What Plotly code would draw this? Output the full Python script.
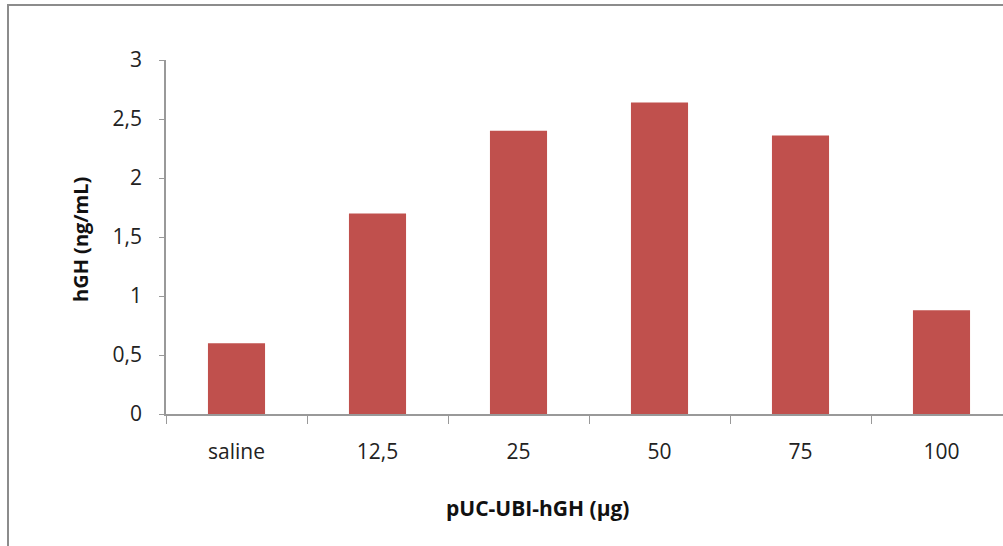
import plotly.graph_objects as go

categories = ["saline", "12,5", "25", "50", "75", "100"]
values = [0.60, 1.70, 2.40, 2.64, 2.36, 0.88]
y_ticks = [0, 0.5, 1, 1.5, 2, 2.5, 3]
y_tick_labels = ["0", "0,5", "1", "1,5", "2", "2,5", "3"]

W, H = 1003, 546
L, R, T, B = 166, 0, 60, 132
pw = W - L - R
ph = H - T - B
cat_px = 141.0

fig = go.Figure(go.Bar(x=categories, y=values, marker=dict(color="#C0504D", line=dict(width=0)), width=0.405))

FAM = "Open Sans, sans-serif"
font = dict(family=FAM, size=21, color="#222")

fig.update_layout(
    width=W, height=H,
    margin=dict(l=L, r=R, t=T, b=B),
    paper_bgcolor="white", plot_bgcolor="white",
    showlegend=False,
    font=font,
    xaxis=dict(
        type="category",
        range=[-0.5, -0.5 + pw / cat_px],
        showline=True, linecolor="#999", linewidth=1.5,
        ticks="outside", tickson="boundaries", ticklen=8, tickcolor="#999",
        showgrid=False, zeroline=False,
        ticklabelstandoff=18,
        tickfont=font,
    ),
    yaxis=dict(
        range=[0, 3], tickvals=y_ticks, ticktext=y_tick_labels,
        showline=True, linecolor="#999", linewidth=1.5,
        ticks="outside", ticklen=5, tickcolor="#999",
        showgrid=False, zeroline=False,
        ticklabelstandoff=13,
        tickfont=font,
    ),
    shapes=[dict(
        type="rect", xref="paper", yref="paper",
        x0=(8 - L) / pw, x1=1.5, y0=-1.0, y1=(H - B - 5) / ph,
        line=dict(color="#8c8c8c", width=2), fillcolor="rgba(0,0,0,0)", layer="below",
    )],
    annotations=[
        dict(text="<b>pUC-UBI-hGH (µg)</b>", xref="paper", yref="paper",
             x=(537 - L) / pw, y=-(508 - (H - B)) / ph, showarrow=False,
             font=dict(family=FAM, size=21, color="#111"),
             xanchor="center", yanchor="middle"),
        dict(text="<b>hGH (ng/mL)</b>", xref="paper", yref="paper",
             x=-(L - 80) / pw, y=((H - B) - 240) / ph, showarrow=False, textangle=-90,
             font=dict(family=FAM, size=20, color="#111"),
             xanchor="center", yanchor="middle"),
    ],
)

fig.write_html("out.html", config={"displayModeBar": False},
               post_script="document.body.style.margin='0';document.body.style.overflow='hidden';")
